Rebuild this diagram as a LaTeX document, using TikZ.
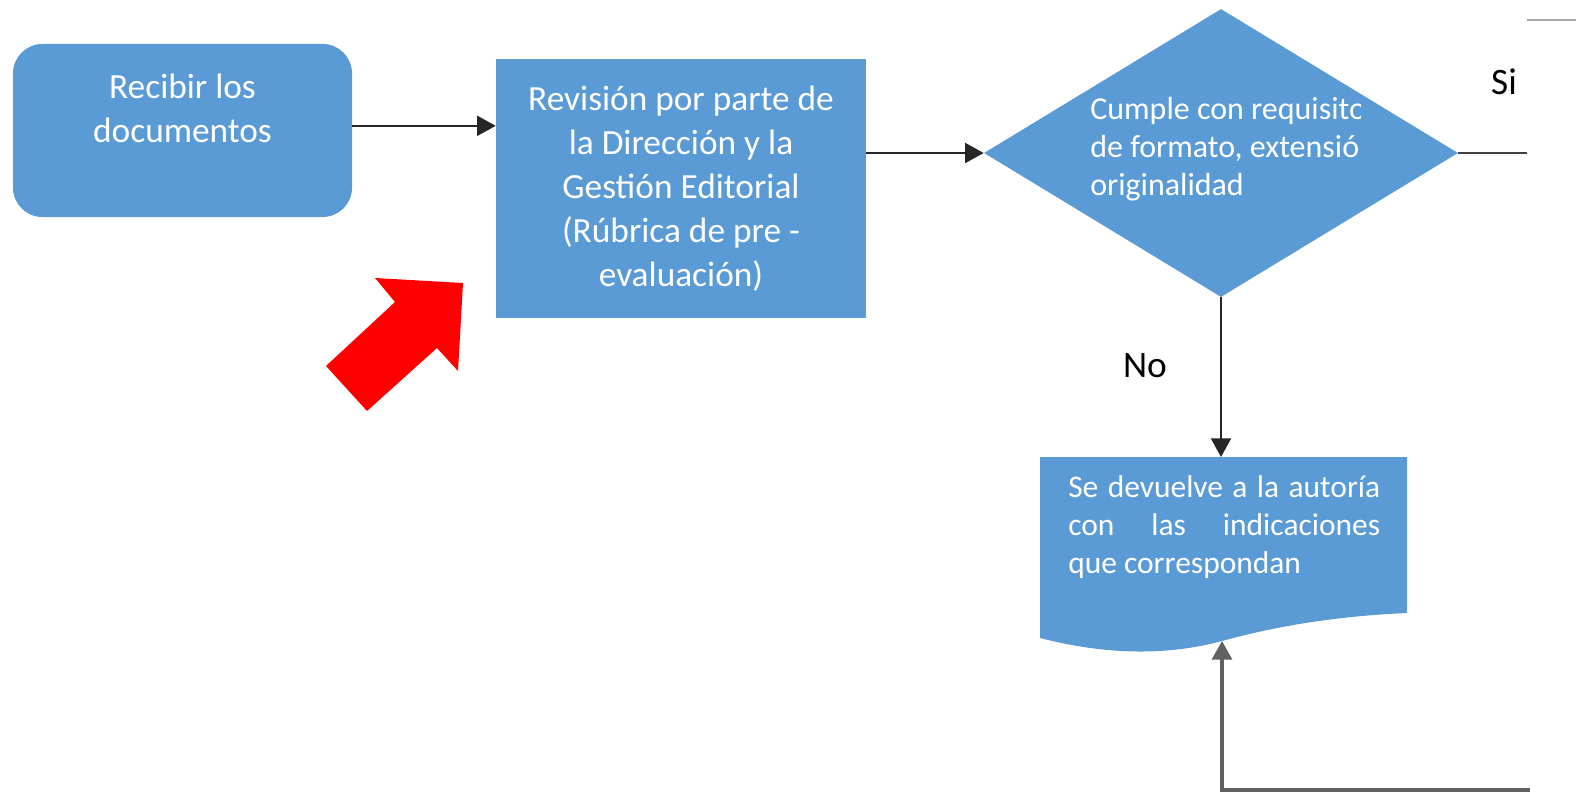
\documentclass[tikz,border=0pt]{standalone}
\usepackage{fontspec}
\setmainfont{Carlito}
\usetikzlibrary{shapes.geometric,arrows.meta}
\definecolor{azulcaja}{RGB}{91,155,213}
\definecolor{rojoflecha}{RGB}{255,0,0}

\begin{document}
\begin{tikzpicture}[x=0.75pt,y=0.75pt,yscale=-1,xscale=1,
  caja/.style={fill=azulcaja,draw=none,inner sep=0pt,text=white,align=center,font=\fontsize{26.5}{33}\selectfont},
  rombo/.style={diamond,fill=azulcaja,draw=none,inner sep=0pt,minimum width=355.5pt,minimum height=216pt},
  textoazul/.style={text=white,inner sep=0pt,align=left,font=\fontsize{24}{28.5}\selectfont},
  etiqueta/.style={inner sep=0pt,font=\fontsize{28}{32}\selectfont},
  flecha/.style={line width=1.6pt,black!85,-{Triangle[length=14pt,width=15pt]}},
  retorno/.style={line width=2.4pt,black!62,-{Triangle[length=14pt,width=15pt]}},
  linea/.style={line width=1.6pt,black!75}]
\useasboundingbox (0,0) rectangle (1576,792);

% Text Node
\node[caja,rounded corners=22pt,minimum width=254.25pt,minimum height=129.75pt] (recibir) at (182.5,130.5) {Recibir los\\documentos\\ \mbox{}};
% Text Node
\node[caja,minimum width=277.5pt,minimum height=194.25pt] (revision) at (681,188.5) {Revisión por parte de\\la Dirección y la\\Gestión Editorial\\(Rúbrica de pre -\\evaluación)};
% Decision
\node[rombo] (cumple) at (1221,153) {};
\begin{scope}
\clip (1080,88) rectangle (1360,212);
\node[textoazul,anchor=north west] (requisitos) at (1090,97) {Cumple con requisitos\\de formato, extensión y\\originalidad};
\end{scope}

% Document shape
\fill[azulcaja] (1040,457) -- (1407,457) -- (1407,613) .. controls (1340,616) and (1280,625) .. (1222,641) .. controls (1170,655) and (1110,656) .. (1040,638) -- cycle;
\coordinate (docarriba) at (1222,457);
\coordinate (docabajo) at (1222,641);
\node[textoazul,anchor=north west,font=\fontsize{23.6}{28.5}\selectfont] (devuelve) at (1068,475) {\makebox[234pt][s]{Se devuelve a la autoría}\\\makebox[234pt][s]{con las indicaciones}\\que correspondan};

% Red arrow
\fill[rojoflecha] (375,278) -- (463,283) -- (458,371) -- (437,348) -- (367,411) -- (326,366) -- (395,302) -- cycle;

% Labels
\node[etiqueta] (si) at (1504,82) {Si};
\node[etiqueta] (no) at (1145,366) {No};

%Straight Lines
\draw[flecha] ([yshift=-3.5pt]recibir.east) -- ([yshift=-3.5pt]recibir.east -| revision.west);
\draw[flecha] (revision.east |- cumple.west) -- (cumple.west);
\draw[flecha] (cumple.south) -- (cumple.south |- docarriba);
\coordinate (sifin) at (1527,148);
\draw[linea] (cumple.east) -- (cumple.east -| sifin);
\coordinate (grisA) at (1527,20);
\coordinate (grisB) at (1576,20);
\draw[gray!70,line width=1.2pt] (grisA) -- (grisB);
%Return line
\coordinate (esquina) at (1222,790);
\coordinate (retornofin) at (1530,790);
\draw[retorno] (retornofin) -- (esquina) -- (docabajo);
\end{tikzpicture}
\end{document}
